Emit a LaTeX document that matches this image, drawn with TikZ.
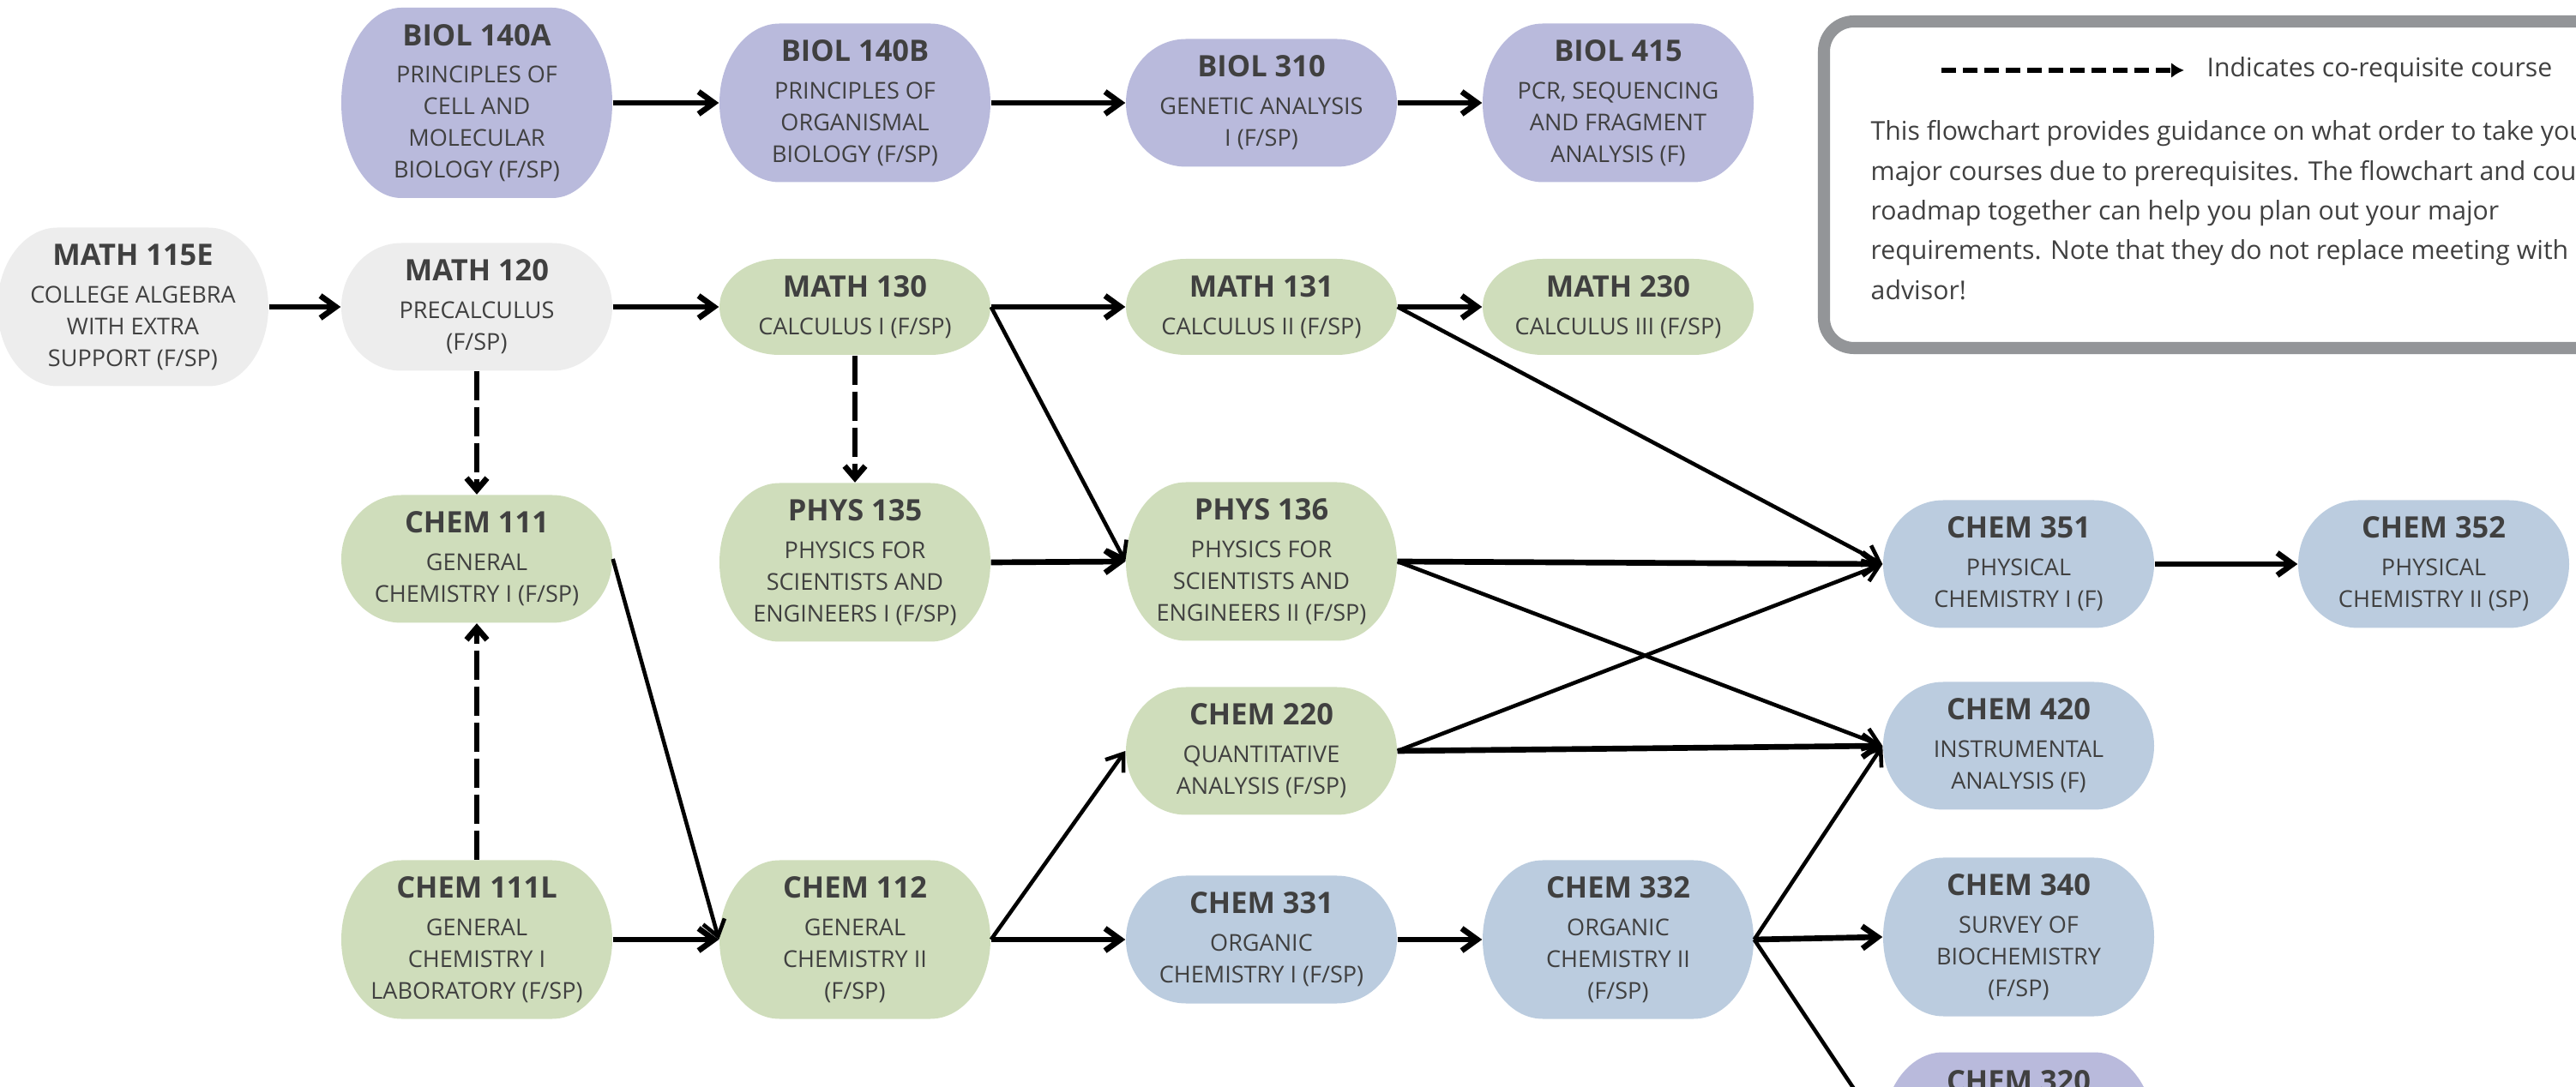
\documentclass[tikz,border=0pt]{standalone}
\usepackage{fontspec}
\setmainfont{Open Sans}
\usetikzlibrary{arrows.meta,calc}

\definecolor{biol}{HTML}{B9BADC}
\definecolor{prep}{HTML}{EDEDED}
\definecolor{core}{HTML}{CFDDBB}
\definecolor{upper}{HTML}{BBCCDF}
\definecolor{ink}{HTML}{404040}
\definecolor{frame}{HTML}{939598}

\newcommand{\ctitle}[1]{{\fontsize{9.8}{10.5}\selectfont\bfseries #1}\\[2pt]}

\tikzset{
    course/.style={minimum width=3.16cm, inner sep=0pt, align=center, text=ink,
        font=\fontsize{7.7}{10.5}\selectfont,
        path picture={\fill[#1] let \p1=(path picture bounding box.north west),
            \p2=(path picture bounding box.south east), \n1={(\y1-\y2)/2} in
            (\x1+7mm,\y1) -- (\x2-7mm,\y1)
            arc[start angle=90, end angle=-90, x radius=7mm, y radius=\n1]
            -- (\x1+7mm,\y2)
            arc[start angle=270, end angle=90, x radius=7mm, y radius=\n1] -- cycle;}},
    oneline/.style={minimum height=1.12cm},
    twoline/.style={minimum height=1.49cm},
    threeline/.style={minimum height=1.85cm},
    fourline/.style={minimum height=2.22cm}
}

\begin{document}
\begin{tikzpicture}[
    prereq/.style={line width=1.9pt, -{Straight Barb[length=1.8mm,width=2.6mm]}},
    slant/.style={line width=1.3pt, -{Straight Barb[length=1.8mm,width=2.6mm]}},
    coreq/.style={line width=1.9pt, dash pattern=on 3.4mm off 0.8mm, -{Straight Barb[length=1.4mm,width=2.4mm]}},
    key/.style={line width=1.6pt, dash pattern=on 1.7mm off 0.8mm, -{Latex[length=1.5mm,width=1.8mm]}}
]

    \useasboundingbox (0,0) rectangle (30.04,-12.68);

    % biology row
    \node[course=biol, fourline]  (b140a) at (5.56,-1.20)  {\ctitle{BIOL 140A}PRINCIPLES OF\\CELL AND\\MOLECULAR\\BIOLOGY (F/SP)};
    \node[course=biol, threeline] (b140b) at (9.97,-1.20)  {\ctitle{BIOL 140B}PRINCIPLES OF\\ORGANISMAL\\BIOLOGY (F/SP)};
    \node[course=biol, twoline]   (b310)  at (14.71,-1.20) {\ctitle{BIOL 310}GENETIC ANALYSIS\\I (F/SP)};
    \node[course=biol, threeline] (b415)  at (18.87,-1.20) {\ctitle{BIOL 415}PCR, SEQUENCING\\AND FRAGMENT\\ANALYSIS (F)};

    % math row
    \node[course=prep, threeline] (m115e) at (1.55,-3.58)  {\ctitle{MATH 115E}COLLEGE ALGEBRA\\WITH EXTRA\\SUPPORT (F/SP)};
    \node[course=prep, twoline]   (m120)  at (5.56,-3.58)  {\ctitle{MATH 120}PRECALCULUS\\(F/SP)};
    \node[course=core, oneline]   (m130)  at (9.97,-3.58)  {\ctitle{MATH 130}CALCULUS I (F/SP)};
    \node[course=core, oneline]   (m131)  at (14.71,-3.58) {\ctitle{MATH 131}CALCULUS II (F/SP)};
    \node[course=core, oneline]   (m230)  at (18.87,-3.58) {\ctitle{MATH 230}CALCULUS III (F/SP)};

    % chemistry and physics
    \node[course=core, twoline]   (c111)  at (5.56,-6.52)  {\ctitle{CHEM 111}GENERAL\\CHEMISTRY I (F/SP)};
    \node[course=core, threeline] (p135)  at (9.97,-6.56)  {\ctitle{PHYS 135}PHYSICS FOR\\SCIENTISTS AND\\ENGINEERS I (F/SP)};
    \node[course=core, threeline] (p136)  at (14.71,-6.55) {\ctitle{PHYS 136}PHYSICS FOR\\SCIENTISTS AND\\ENGINEERS II (F/SP)};
    \node[course=upper, twoline]  (c351)  at (23.54,-6.58) {\ctitle{CHEM 351}PHYSICAL\\CHEMISTRY I (F)};
    \node[course=upper, twoline]  (c352)  at (28.38,-6.58) {\ctitle{CHEM 352}PHYSICAL\\CHEMISTRY II (SP)};
    \node[course=core, twoline]   (c220)  at (14.71,-8.76) {\ctitle{CHEM 220}QUANTITATIVE\\ANALYSIS (F/SP)};
    \node[course=upper, twoline]  (c420)  at (23.54,-8.70) {\ctitle{CHEM 420}INSTRUMENTAL\\ANALYSIS (F)};
    \node[course=core, threeline] (c111l) at (5.56,-10.96) {\ctitle{CHEM 111L}GENERAL\\CHEMISTRY I\\LABORATORY (F/SP)};
    \node[course=core, threeline] (c112)  at (9.97,-10.96) {\ctitle{CHEM 112}GENERAL\\CHEMISTRY II\\(F/SP)};
    \node[course=upper, twoline]  (c331)  at (14.71,-10.96) {\ctitle{CHEM 331}ORGANIC\\CHEMISTRY I (F/SP)};
    \node[course=upper, threeline] (c332) at (18.87,-10.96) {\ctitle{CHEM 332}ORGANIC\\CHEMISTRY II\\(F/SP)};
    \node[course=upper, threeline] (c340) at (23.54,-10.93) {\ctitle{CHEM 340}SURVEY OF\\BIOCHEMISTRY\\(F/SP)};
    \node[course=biol, threeline] (c320)  at (23.54,-13.20) {\ctitle{CHEM 320}\mbox{}\\\mbox{}\\\mbox{}};

    % prerequisites
    \foreach \a/\b in {b140a/b140b, b140b/b310, b310/b415, m115e/m120, m120/m130, m130/m131,
        m131/m230, p135/p136, p136/c351, c220/c420, c351/c352, c111l/c112, c112/c331,
        c331/c332, c332/c340}
        \draw[prereq] (\a.east) -- (\b.west);
    \foreach \a/\b in {m130/p136, m131/c351, p136/c420, c220/c351, c111/c112, c112/c220,
        c332/c420, c332/c320}
        \draw[slant] (\a.east) -- (\b.west);

    % co-requisites
    \draw[coreq] (m120.south) -- (c111.north);
    \draw[coreq] (m130.south) -- (p135.north);
    \draw[coreq] (c111l.north) -- (c111.south);

    % legend
    \draw[frame, line width=4pt, rounded corners=3.5mm] (21.27,-0.25) rectangle (31.2,-4.06);
    \node[anchor=west, inner sep=0pt, text=ink, font=\fontsize{8.6}{10.4}\selectfont] (keytext) at (25.73,-0.82) {Indicates co-requisite course};
    \coordinate (keystart) at (22.64,-0.82);
    \draw[key] (keystart) -- ([xshift=-2.6mm]keytext.west);
    \node[anchor=north west, inner sep=0pt, align=left, text=ink, font=\fontsize{8.6}{13.2}\selectfont] (note) at (21.81,-1.40)
        {This flowchart provides guidance on what order to take your\\major courses due to prerequisites. The flowchart and course\\roadmap together can help you plan out your major\\requirements. Note that they do not replace meeting with\\advisor!};

\end{tikzpicture}
\end{document}
